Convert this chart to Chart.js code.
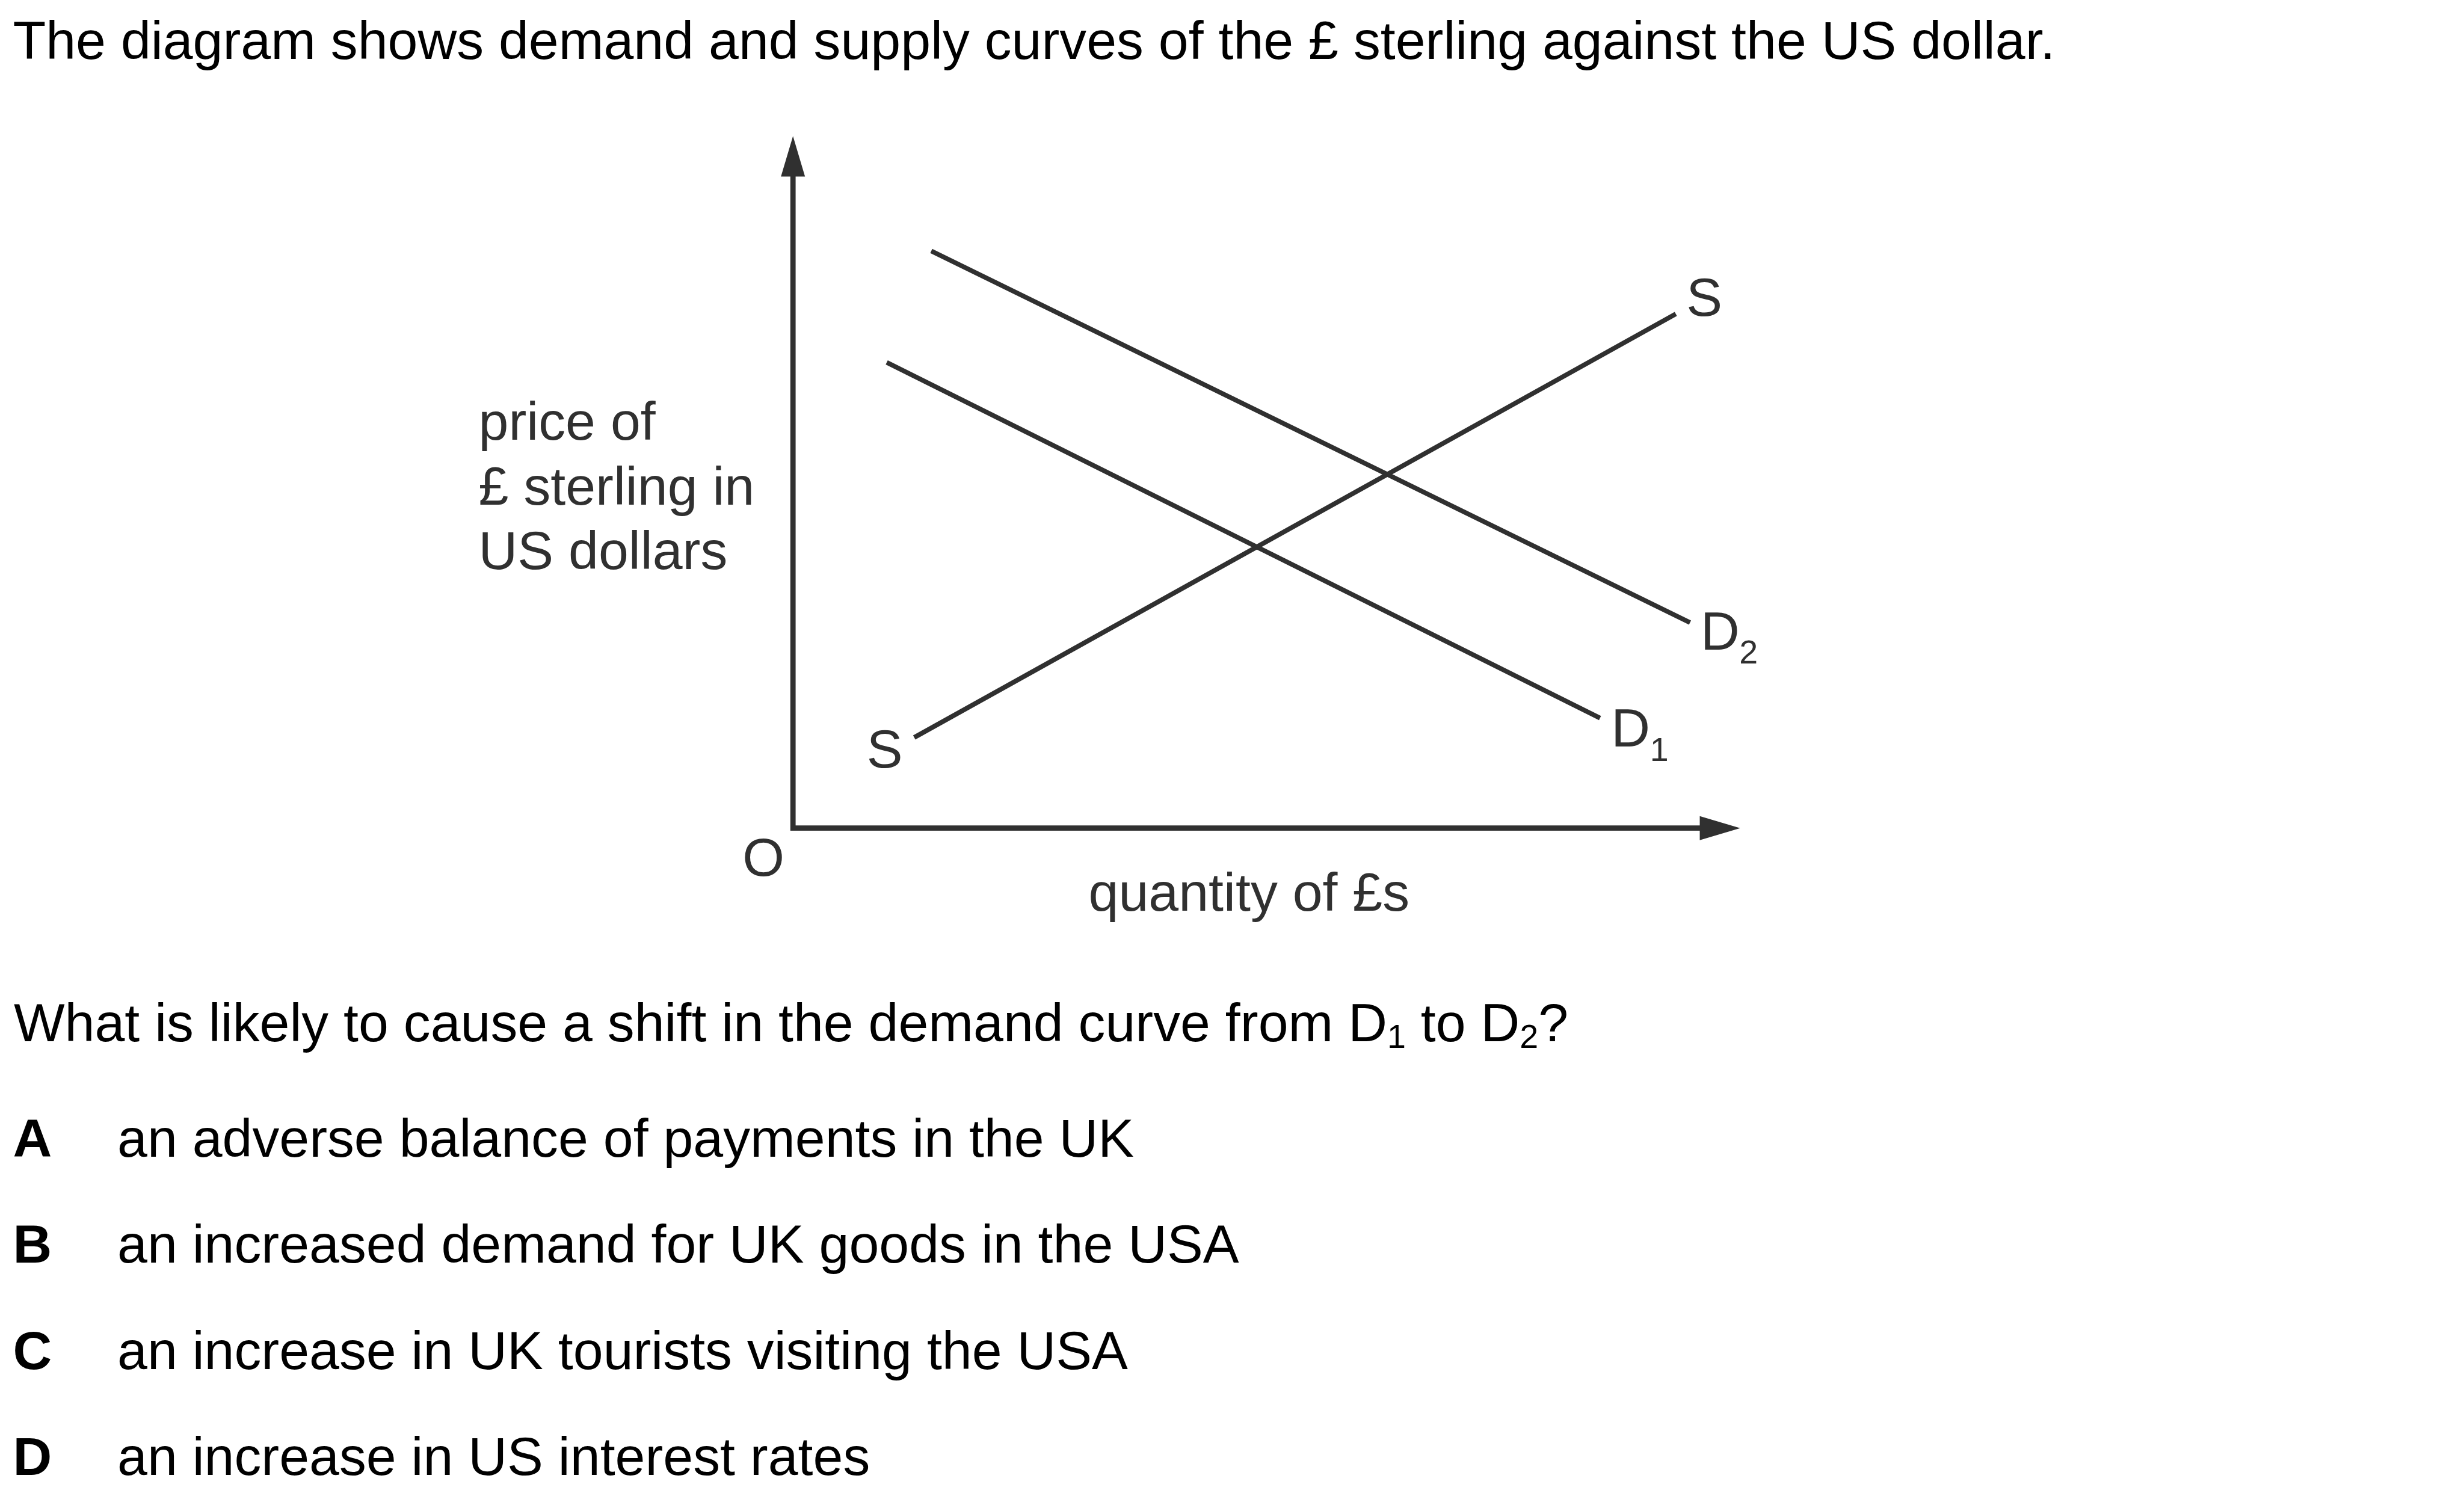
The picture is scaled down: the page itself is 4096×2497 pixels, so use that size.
<!DOCTYPE html>
<html>
<head>
<meta charset="utf-8">
<script src="https://cdn.jsdelivr.net/npm/chart.js@4.4.1/dist/chart.umd.min.js"></script>
<style>
  html, body { margin: 0; padding: 0; background: #ffffff; }
  body { width: 4096px; height: 2497px; position: relative; overflow: hidden;
         font-family: "Liberation Sans", Arial, sans-serif; color: #000; }
  #chart { position: absolute; left: 0; top: 0; }
  .t { position: absolute; white-space: nowrap; line-height: 1; font-size: 89.7px; }
  .sub { font-size: 0.62em; position: relative; top: 0.2em; }
  .b { font-weight: bold; }
</style>
</head>
<body>
<canvas id="chart" width="4096" height="2497"></canvas>
<div id="texts"></div>
<script>
// ---------- data ----------
const seriesNames = ['S', 'D1', 'D2'];
const supplyQty   = [12.8, 93.2];
const supplyPrice = [13.1, 74.3];
const demand1Qty   = [9.9, 85.2];
const demand1Price = [67.3, 15.9];
const demand2Qty   = [14.6, 94.7];
const demand2Price = [83.4, 29.7];
const axisMax = [100, 100];           // x (quantity), y (price)
const yAxisLabel = ['price of', '£ sterling in', 'US dollars'];
const xAxisLabel = 'quantity of £s';
const originLabel = 'O';
const titleText = 'The diagram shows demand and supply curves of the £ sterling against the US dollar.';
const questionParts = ['What is likely to cause a shift in the demand curve from D', '1', ' to D', '2', '?'];
const optionLetters = ['A', 'B', 'C', 'D'];
const optionTexts = [
  'an adverse balance of payments in the UK',
  'an increased demand for UK goods in the USA',
  'an increase in UK tourists visiting the USA',
  'an increase in US interest rates'
];

// ---------- layout ----------
const K = 0.975;
const W = 4096, H = 2497;
const INK = '#303030';
const FONT = '"Liberation Sans", Arial, sans-serif';
const F = 92 * K, FS = 57 * K;

function pts(xs, ys) { return xs.map((x, i) => ({ x: x, y: ys[i] })); }

// HTML text (baseline-positioned)
const texts = document.getElementById('texts');
function addText(html, x, baseline, cls) {
  const d = document.createElement('div');
  d.className = 't' + (cls ? ' ' + cls : '');
  d.innerHTML = html;
  d.style.left = x + 'px';
  d.style.top = (baseline - 0.8465 * F) + 'px';
  texts.appendChild(d);
}
addText(titleText, 22 * K, 101 * K);
addText(questionParts[0] + '<span class="sub">' + questionParts[1] + '</span>' + questionParts[2] +
        '<span class="sub">' + questionParts[3] + '</span>' + questionParts[4], 23.5 * K, 1776 * K);
const optBase = [1973, 2154, 2335, 2516];
optionLetters.forEach((L, i) => {
  addText(L, 22 * K, optBase[i] * K, 'b');
  addText(optionTexts[i], 200 * K, optBase[i] * K);
});

// chart axes + labels plugin
const axesPlugin = {
  id: 'axesAndLabels',
  beforeDatasetsDraw(chart) {
    const ctx = chart.ctx;
    const xs = chart.scales.x, ys = chart.scales.y;
    const x0 = xs.getPixelForValue(0), y0 = ys.getPixelForValue(0);
    const xR = xs.getPixelForValue(axisMax[0]), yT = ys.getPixelForValue(axisMax[1]);
    const lw = 9 * K, aL = 69 * K, aH = 20.5 * K;
    ctx.save();
    ctx.strokeStyle = INK; ctx.fillStyle = INK; ctx.lineWidth = lw; ctx.lineCap = 'butt';
    ctx.beginPath();
    ctx.moveTo(x0, y0 + lw / 2); ctx.lineTo(x0, yT + aL - 1);
    ctx.moveTo(x0 - lw / 2, y0); ctx.lineTo(xR - aL + 1, y0);
    ctx.stroke();
    ctx.beginPath();
    ctx.moveTo(x0, yT); ctx.lineTo(x0 - aH, yT + aL); ctx.lineTo(x0 + aH, yT + aL); ctx.closePath(); ctx.fill();
    ctx.beginPath();
    ctx.moveTo(xR, y0); ctx.lineTo(xR - aL, y0 - aH); ctx.lineTo(xR - aL, y0 + aH); ctx.closePath(); ctx.fill();

    ctx.textBaseline = 'alphabetic'; ctx.textAlign = 'left';
    ctx.font = F + 'px ' + FONT;
    // origin + axis titles
    ctx.fillText(originLabel, x0 - 86 * K, y0 + 81 * K);
    ctx.fillText(xAxisLabel, x0 + 504 * K, y0 + 141 * K);
    const yOff = [-662, -552, -442];
    yAxisLabel.forEach((s, i) => ctx.fillText(s, x0 - 536 * K, y0 + yOff[i] * K));

    // curve labels anchored at curve ends
    const px = (q, p) => [xs.getPixelForValue(q), ys.getPixelForValue(p)];
    let [sx1, sy1] = px(supplyQty[1], supplyPrice[1]);
    ctx.fillText(seriesNames[0], sx1 + 18 * K, sy1 + 3 * K);
    let [sx0, sy0] = px(supplyQty[0], supplyPrice[0]);
    ctx.fillText(seriesNames[0], sx0 - 81 * K, sy0 + 51 * K);
    let [d1x, d1y] = px(demand1Qty[1], demand1Price[1]);
    ctx.fillText(seriesNames[1][0], d1x + 19 * K, d1y + 48 * K);
    let [d2x, d2y] = px(demand2Qty[1], demand2Price[1]);
    ctx.fillText(seriesNames[2][0], d2x + 18 * K, d2y + 46 * K);
    ctx.font = FS + 'px ' + FONT;
    ctx.fillText(seriesNames[1][1], d1x + 85 * K, d1y + 73 * K);
    ctx.fillText(seriesNames[2][1], d2x + 84 * K, d2y + 70 * K);
    ctx.restore();
  }
};

const lineStyle = { showLine: true, pointRadius: 0, pointHoverRadius: 0, borderColor: INK,
                    borderWidth: 8 * K, borderCapStyle: 'butt', fill: false, tension: 0 };

new Chart(document.getElementById('chart'), {
  type: 'scatter',
  data: {
    datasets: [
      Object.assign({ label: seriesNames[0], data: pts(supplyQty, supplyPrice) }, lineStyle),
      Object.assign({ label: seriesNames[1], data: pts(demand1Qty, demand1Price) }, lineStyle),
      Object.assign({ label: seriesNames[2], data: pts(demand2Qty, demand2Price) }, lineStyle)
    ]
  },
  options: {
    responsive: false,
    devicePixelRatio: 1,
    animation: false,
    events: [],
    layout: { padding: { left: 1352 * K, top: 232 * K, right: W - 2967 * K, bottom: H - 1412 * K } },
    plugins: { legend: { display: false }, title: { display: false }, tooltip: { enabled: false } },
    scales: {
      x: { type: 'linear', min: 0, max: axisMax[0], display: false },
      y: { type: 'linear', min: 0, max: axisMax[1], display: false }
    }
  },
  plugins: [axesPlugin]
});
</script>
</body>
</html>
